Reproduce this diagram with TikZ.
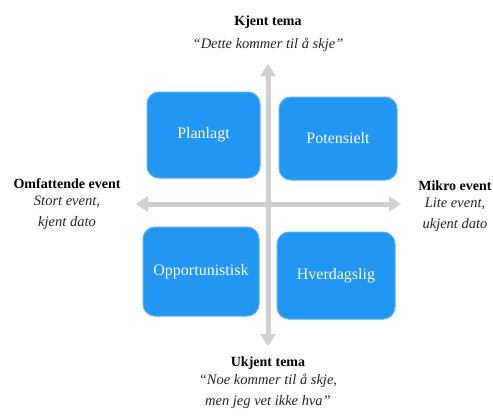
\documentclass[tikz,border=0pt]{standalone}
\usepackage{fontspec}
\setmainfont{Liberation Serif}
\usetikzlibrary{arrows.meta}
\definecolor{boxblue}{RGB}{33,150,243}
\definecolor{boxedge}{RGB}{90,175,245}
\definecolor{axisgray}{RGB}{208,208,208}
\definecolor{subgray}{RGB}{35,35,35}
\tikzset{
  quad/.style={draw=boxedge, line width=1pt, fill=boxblue, rounded corners=12pt,
    text=white, font=\fontsize{16}{18}\selectfont, align=center, inner sep=0pt},
  axis/.style={draw=axisgray, line width=5pt,
    -{Triangle[width=15pt,length=12pt]}},
  ttl/.style={font=\bfseries\fontsize{14}{16}\selectfont, inner sep=0pt},
  sub/.style={font=\itshape\fontsize{14.5}{21}\selectfont, text=subgray, align=center, inner sep=0pt},
}
\begin{document}
\begin{tikzpicture}[x=1pt,y=-1pt]
\useasboundingbox (0,0) rectangle (493,416);
% axes
\coordinate (c) at (268,204);
\coordinate (top) at (268,64);
\coordinate (bot) at (268,346);
\coordinate (lft) at (136,204);
\coordinate (rgt) at (401,204);
\draw[axis] (c) -- (top);
\draw[axis] (c) -- (bot);
\draw[axis] (c) -- (lft);
\draw[axis] (c) -- (rgt);
% boxes
\node[quad, minimum width=113pt, minimum height=86pt] (plan) at (203.5,135) {Planlagt};
\node[quad, minimum width=118pt, minimum height=83pt] (pot) at (338,138.5) {Potensielt};
\node[quad, minimum width=116pt, minimum height=89pt] (opp) at (201,271.5) {Opportunistisk};
\node[quad, minimum width=118pt, minimum height=87pt] (hve) at (336,275.5) {Hverdagslig};
% labels
\node[ttl] (kt) at (268,22) {Kjent tema};
\node[sub] (kts) at (268,45) {“Dette kommer til å skje”};
\node[ttl] (ut) at (268,363) {Ukjent tema};
\node[sub, anchor=north] (uts) at (268,374) {“Noe kommer til å skje,\\men jeg vet ikke hva”};
\node[ttl] (oe) at (67,184) {Omfattende event};
\node[sub, anchor=north] (oes) at (67,196) {Stort event,\\kjent dato};
\node[ttl] (me) at (455,186) {Mikro event};
\node[sub, anchor=north] (mes) at (455,198) {Lite event,\\ukjent dato};
\end{tikzpicture}
\end{document}
